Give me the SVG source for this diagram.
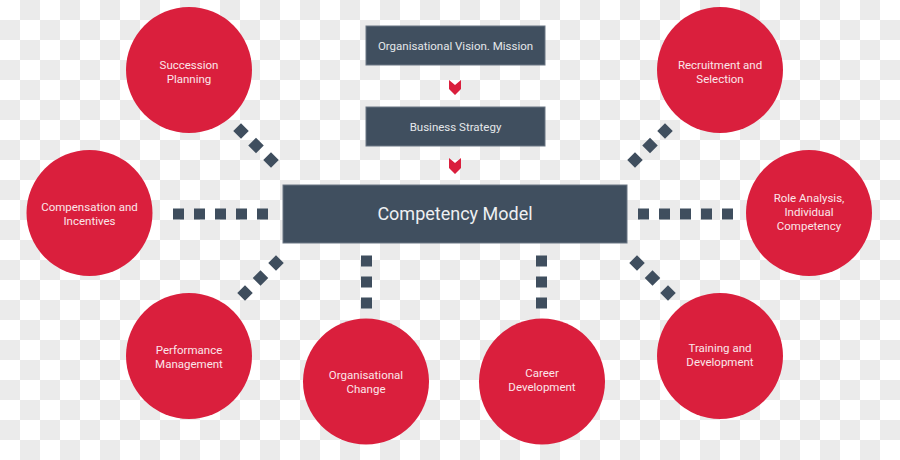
<svg xmlns="http://www.w3.org/2000/svg" width="900" height="460" viewBox="0 0 900 460">
<defs>
<pattern id="chk" x="0" y="0" width="40" height="40" patternUnits="userSpaceOnUse">
<rect width="40" height="40" fill="#ffffff"/>
<rect x="20" y="0" width="20" height="20" fill="#ebebeb"/>
<rect x="0" y="20" width="20" height="20" fill="#ebebeb"/>
</pattern>
<rect id="sq" x="-5.5" y="-5.5" width="11" height="11" fill="#3f4e5e"/>
<rect id="dm" x="-5.5" y="-5.5" width="11" height="11" fill="#3f4e5e" transform="rotate(45)"/>
</defs>
<style>
.box{fill:#404f5f;stroke:#6a7684;stroke-width:1}
.circ{fill:#da1f3d}
.bt{font-family:Roboto,"Liberation Sans",sans-serif;font-size:11.5px;fill:#e4e7ea;text-anchor:middle}
.ct{font-family:Roboto,"Liberation Sans",sans-serif;font-size:11.5px;fill:#fbe6ea;text-anchor:middle}
.mt{font-family:Roboto,"Liberation Sans",sans-serif;font-size:18px;fill:#eef0f2;text-anchor:middle}
.chev{fill:#da1f3d}
</style>
<rect width="900" height="460" fill="url(#chk)"/>

<g id="connectors">
<polygon class="chev" points="449,80 455,85 461,80 461,89 455,95 449,89"/>
<polygon class="chev" points="449,158 455,163 461,158 461,168 455,174 449,168"/>
<use href="#sq" x="178.5" y="214"/><use href="#sq" x="199.5" y="214"/><use href="#sq" x="220.5" y="214"/><use href="#sq" x="241.5" y="214"/><use href="#sq" x="262.5" y="214"/>
<use href="#sq" x="643.5" y="214"/><use href="#sq" x="664.5" y="214"/><use href="#sq" x="685.5" y="214"/><use href="#sq" x="706.5" y="214"/><use href="#sq" x="727.5" y="214"/>
<use href="#sq" x="366.5" y="261"/><use href="#sq" x="366.5" y="282"/><use href="#sq" x="366.5" y="303"/>
<use href="#sq" x="541.5" y="261"/><use href="#sq" x="541.5" y="282"/><use href="#sq" x="541.5" y="303"/>
<use href="#dm" x="241" y="131"/><use href="#dm" x="256" y="145.5"/><use href="#dm" x="271" y="160"/>
<use href="#dm" x="276" y="263"/><use href="#dm" x="260.5" y="278"/><use href="#dm" x="245" y="293"/>
<use href="#dm" x="665" y="131"/><use href="#dm" x="650" y="145.5"/><use href="#dm" x="635" y="160"/>
<use href="#dm" x="637" y="263"/><use href="#dm" x="652.5" y="278"/><use href="#dm" x="668" y="293"/>
</g>

<g id="vision">
<rect class="box" x="366" y="26" width="179" height="39"/>
<text class="bt" x="455.5" y="50">Organisational Vision. Mission</text>
</g>
<g id="strategy">
<rect class="box" x="366" y="107" width="179" height="39"/>
<text class="bt" x="455.5" y="131">Business Strategy</text>
</g>
<g id="competency">
<rect class="box" x="283" y="185" width="344" height="58"/>
<text class="mt" x="455" y="220">Competency Model</text>
</g>

<g id="succession">
<circle class="circ" cx="189" cy="70" r="63"/>
<text class="ct" x="189" y="69">Succession</text>
<text class="ct" x="189" y="83">Planning</text>
</g>
<g id="compensation">
<circle class="circ" cx="89.5" cy="213" r="63"/>
<text class="ct" x="89.5" y="211">Compensation and</text>
<text class="ct" x="89.5" y="225">Incentives</text>
</g>
<g id="performance">
<circle class="circ" cx="189" cy="356" r="63"/>
<text class="ct" x="189" y="354">Performance</text>
<text class="ct" x="189" y="368">Management</text>
</g>
<g id="orgchange">
<circle class="circ" cx="366" cy="381.5" r="63"/>
<text class="ct" x="366" y="379">Organisational</text>
<text class="ct" x="366" y="393">Change</text>
</g>
<g id="career">
<circle class="circ" cx="542" cy="381.5" r="63"/>
<text class="ct" x="542" y="377">Career</text>
<text class="ct" x="542" y="391">Development</text>
</g>
<g id="training">
<circle class="circ" cx="720" cy="356" r="63"/>
<text class="ct" x="720" y="352">Training and</text>
<text class="ct" x="720" y="366">Development</text>
</g>
<g id="role">
<circle class="circ" cx="809" cy="213" r="63"/>
<text class="ct" x="809" y="202">Role Analysis,</text>
<text class="ct" x="809" y="216">Individual</text>
<text class="ct" x="809" y="230">Competency</text>
</g>
<g id="recruitment">
<circle class="circ" cx="720" cy="70" r="63"/>
<text class="ct" x="720" y="69">Recruitment and</text>
<text class="ct" x="720" y="83">Selection</text>
</g>
</svg>
